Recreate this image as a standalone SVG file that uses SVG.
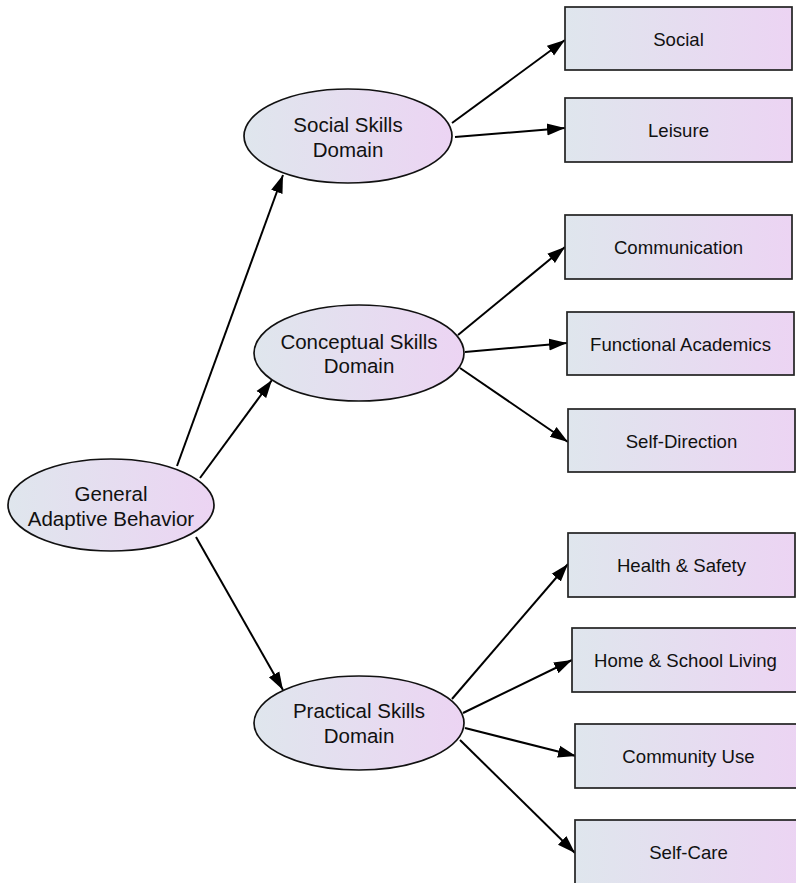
<svg xmlns="http://www.w3.org/2000/svg" width="796" height="883" viewBox="0 0 796 883">
<defs>
<linearGradient id="g" x1="0" y1="0" x2="1" y2="0">
<stop offset="0" stop-color="#dfe6ed"/>
<stop offset="1" stop-color="#ecd4f3"/>
</linearGradient>
<marker id="arr" markerUnits="userSpaceOnUse" markerWidth="19" markerHeight="14" refX="18" refY="7" orient="auto">
<path d="M0,1 L18,7 L0,13 z" fill="#000"/>
</marker>
<style>
.el{fill:url(#g);stroke:#111;stroke-width:1.7}
.bx{fill:url(#g);stroke:#222;stroke-width:1.7}
.t1{font-family:"Liberation Sans",Arial,sans-serif;font-size:20.5px;fill:#111;text-anchor:middle}
.t2{font-family:"Liberation Sans",Arial,sans-serif;font-size:18.6px;fill:#111;text-anchor:middle}
.ed{stroke:#000;stroke-width:2;fill:none;marker-end:url(#arr)}
</style>
</defs>
<rect width="796" height="883" fill="#fff"/>
<g id="connectors">
<line class="ed" x1="177" y1="466" x2="283" y2="175"/>
<line class="ed" x1="200" y1="478" x2="272" y2="380"/>
<line class="ed" x1="196" y1="537" x2="283" y2="690"/>
<line class="ed" x1="452" y1="123" x2="565" y2="40"/>
<line class="ed" x1="455" y1="137" x2="565" y2="128"/>
<line class="ed" x1="458" y1="335" x2="565" y2="247"/>
<line class="ed" x1="465" y1="352" x2="567" y2="343"/>
<line class="ed" x1="460" y1="368" x2="568" y2="442"/>
<line class="ed" x1="452" y1="699" x2="568" y2="564"/>
<line class="ed" x1="463" y1="713" x2="572" y2="660"/>
<line class="ed" x1="465" y1="728" x2="576" y2="756"/>
<line class="ed" x1="460" y1="740" x2="575" y2="853"/>
</g>
<g id="general">
<ellipse class="el" cx="111" cy="505" rx="103" ry="46"/>
<text class="t1" x="111" y="501">General</text>
<text class="t1" x="111" y="526">Adaptive Behavior</text>
</g>
<g id="social-skills">
<ellipse class="el" cx="348" cy="136" rx="104" ry="47"/>
<text class="t1" x="348" y="132">Social Skills</text>
<text class="t1" x="348" y="157">Domain</text>
</g>
<g id="conceptual-skills">
<ellipse class="el" cx="359" cy="353" rx="105" ry="48"/>
<text class="t1" x="359" y="349">Conceptual Skills</text>
<text class="t1" x="359" y="373">Domain</text>
</g>
<g id="practical-skills">
<ellipse class="el" cx="359" cy="723" rx="105" ry="47"/>
<text class="t1" x="359" y="718">Practical Skills</text>
<text class="t1" x="359" y="743">Domain</text>
</g>
<g id="social">
<rect class="bx" x="565" y="7" width="227" height="63"/>
<text class="t2" x="678.5" y="46">Social</text>
</g>
<g id="leisure">
<rect class="bx" x="565" y="98" width="227" height="64"/>
<text class="t2" x="678.5" y="137">Leisure</text>
</g>
<g id="communication">
<rect class="bx" x="565" y="215" width="227" height="64"/>
<text class="t2" x="678.5" y="254">Communication</text>
</g>
<g id="functional-academics">
<rect class="bx" x="567" y="312" width="227" height="63"/>
<text class="t2" x="680.5" y="350.5">Functional Academics</text>
</g>
<g id="self-direction">
<rect class="bx" x="568" y="409" width="227" height="63"/>
<text class="t2" x="681.5" y="447.5">Self-Direction</text>
</g>
<g id="health-safety">
<rect class="bx" x="568" y="533" width="227" height="64"/>
<text class="t2" x="681.5" y="572">Health &amp; Safety</text>
</g>
<g id="home-school-living">
<rect class="bx" x="572" y="628" width="227" height="64"/>
<text class="t2" x="685.5" y="667">Home &amp; School Living</text>
</g>
<g id="community-use">
<rect class="bx" x="575" y="724" width="227" height="64"/>
<text class="t2" x="688.5" y="763">Community Use</text>
</g>
<g id="self-care">
<rect class="bx" x="575" y="820" width="227" height="64"/>
<text class="t2" x="688.5" y="859">Self-Care</text>
</g>
</svg>
